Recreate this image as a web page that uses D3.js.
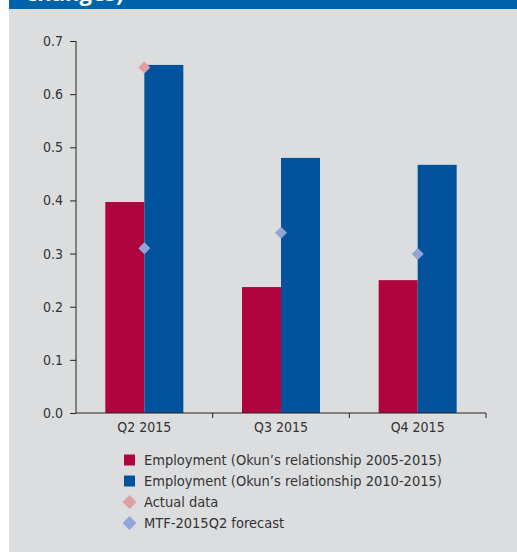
<!DOCTYPE html>
<html>
<head>
<meta charset="utf-8">
<script src="https://cdn.jsdelivr.net/npm/d3@7"></script>
<style>
  html, body { margin: 0; padding: 0; background: #ffffff; }
  svg { display: block; }
  text { font-family: "Liberation Sans Narrow", "Arial Narrow", "DejaVu Sans Condensed", sans-serif; }
</style>
</head>
<body>
<svg id="chart" width="517" height="552"></svg>
<script>
// Quarters on the x axis
const quarters = ["Q2 2015", "Q3 2015", "Q4 2015"];
// Employment growth implied by Okun's relationship, two estimation windows
const okun0515 = [0.397, 0.237, 0.250];
const okun1015 = [0.655, 0.480, 0.467];
// Actual outturn (only available for the first quarter)
const actualData = [0.650, null, null];
// MTF-2015Q2 forecast
const mtfForecast = [0.310, 0.339, 0.299];
// Y axis ticks
const yTicks = [0.0, 0.1, 0.2, 0.3, 0.4, 0.5, 0.6, 0.7];

const legendItems = [
  { label: "Employment (Okun\u2019s relationship 2005-2015)", shape: "square", color: "#b0043f" },
  { label: "Employment (Okun\u2019s relationship 2010-2015)", shape: "square", color: "#02539b" },
  { label: "Actual data", shape: "diamond", color: "#e0a0a3" },
  { label: "MTF-2015Q2 forecast", shape: "diamond", color: "#91a6d6" }
];

const svg = d3.select("#chart");

// Panel background and title band
svg.append("rect").attr("x", 9).attr("y", 0).attr("width", 508).attr("height", 552).attr("fill", "#dcdddf");
svg.append("rect").attr("x", 9).attr("y", 0).attr("width", 508).attr("height", 9).attr("fill", "#0162ac");
svg.append("text").attr("x", 26).attr("y", 1)
  .attr("fill", "#ffffff").attr("font-size", 22).attr("font-weight", "bold")
  .style("font-family", "'Open Sans', 'DejaVu Sans', sans-serif")
  .text("changes)");

const x0 = d3.scaleBand().domain(quarters).range([76, 486]).paddingInner(0).paddingOuter(0);
const y = d3.scaleLinear().domain([0, 0.7]).range([413, 41]);
const barW = 39;

// Y axis
const yAxis = svg.append("g").attr("transform", "translate(76,0)")
  .call(d3.axisLeft(y).tickValues(yTicks).tickFormat(d3.format(".1f")).tickSize(6).tickPadding(7));
yAxis.select(".domain").attr("stroke", "#222").attr("d", "M0,41V413");
yAxis.selectAll(".tick line").attr("stroke", "#222");
yAxis.selectAll(".tick text").attr("fill", "#333").attr("font-size", 14)
  .style("font-family", "'Liberation Sans Narrow', 'Arial Narrow', 'DejaVu Sans Condensed', sans-serif");

// Bars
const groups = svg.append("g");
quarters.forEach((q, i) => {
  const cx = x0(q) + x0.bandwidth() / 2;
  groups.append("rect").attr("x", cx - barW).attr("width", barW)
    .attr("y", y(okun0515[i])).attr("height", y(0) - y(okun0515[i])).attr("fill", "#b0043f");
  groups.append("rect").attr("x", cx).attr("width", barW)
    .attr("y", y(okun1015[i])).attr("height", y(0) - y(okun1015[i])).attr("fill", "#02539b");
});

// Diamond markers
const diamond = (cx, cy, r) => `M${cx},${cy - r}L${cx + r},${cy}L${cx},${cy + r}L${cx - r},${cy}Z`;
quarters.forEach((q, i) => {
  const cx = x0(q) + x0.bandwidth() / 2;
  if (actualData[i] != null)
    svg.append("path").attr("d", diamond(cx, y(actualData[i]), 6)).attr("fill", "#e0a0a3");
  if (mtfForecast[i] != null)
    svg.append("path").attr("d", diamond(cx, y(mtfForecast[i]), 6)).attr("fill", "#91a6d6");
});

// X axis with ticks between categories
const xg = svg.append("g").attr("transform", "translate(0,413)");
xg.append("line").attr("x1", 76).attr("x2", 486).attr("y1", 0).attr("y2", 0).attr("stroke", "#222");
const bounds = quarters.map(q => x0(q) + x0.bandwidth());
xg.selectAll("line.tk").data(bounds).join("line").attr("class", "tk")
  .attr("x1", d => d).attr("x2", d => d).attr("y1", 0).attr("y2", 5).attr("stroke", "#222");
xg.selectAll("text").data(quarters).join("text")
  .attr("x", d => x0(d) + x0.bandwidth() / 2).attr("y", 19)
  .attr("text-anchor", "middle").attr("fill", "#333").attr("font-size", 14)
  .text(d => d);

// Legend
const lg = svg.append("g");
legendItems.forEach((it, i) => {
  const cy = 460 + i * 21;
  if (it.shape === "square")
    lg.append("rect").attr("x", 124).attr("y", cy - 5.5).attr("width", 11).attr("height", 11).attr("fill", it.color);
  else
    lg.append("path").attr("d", diamond(129.5, cy, 7)).attr("fill", it.color);
  lg.append("text").attr("x", 144).attr("y", cy + 5).attr("fill", "#333").attr("font-size", 14.5).text(it.label);
});
</script>
</body>
</html>
